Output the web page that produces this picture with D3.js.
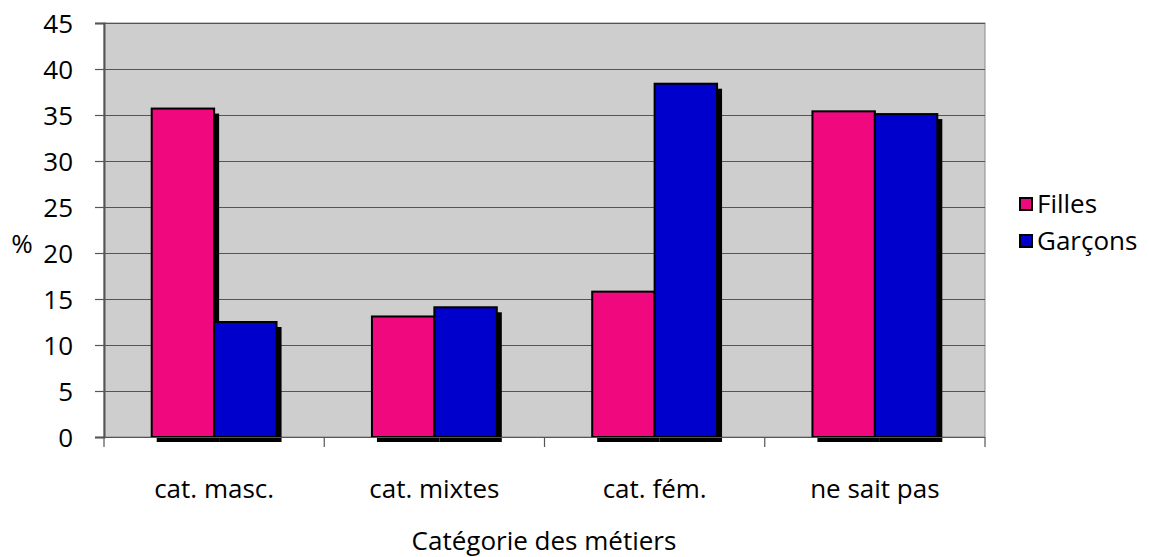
<!DOCTYPE html>
<html>
<head>
<meta charset="utf-8">
<script src="https://cdn.jsdelivr.net/npm/d3@7"></script>
<style>
  body { margin: 0; background: #fff; }
  svg text { font-family: "Open Sans", Lato, sans-serif; font-size: 26px; fill: #000; }
</style>
</head>
<body>
<svg id="chart" width="1149" height="557"></svg>
<script>
// Job categories and the share (%) of girls and boys choosing each
const categories = ["cat. masc.", "cat. mixtes", "cat. fém.", "ne sait pas"];
const filles = [35.7, 13.1, 15.8, 35.4];
const garcons = [12.5, 14.1, 38.4, 35.1];
const seriesNames = ["Filles", "Garçons"];
const seriesColors = ["#F0087F", "#0000CC"];
const yTicks = [0, 5, 10, 15, 20, 25, 30, 35, 40, 45];

const svg = d3.select("#chart");
const plot = { left: 104, right: 985, top: 23, bottom: 437 };

const x = d3.scaleBand().domain(categories).range([plot.left, plot.right]).paddingInner(0).paddingOuter(0);
const inner = d3.scaleBand().domain(seriesNames).range([0, x.bandwidth()]).paddingInner(0).paddingOuter(0.764);
const y = d3.scaleLinear().domain([0, 45]).range([plot.bottom, plot.top]);

// plot background
svg.append("rect")
  .attr("x", plot.left).attr("y", plot.top)
  .attr("width", plot.right - plot.left).attr("height", plot.bottom - plot.top)
  .attr("fill", "#CECECE").attr("stroke", "#8a8a8a").attr("stroke-width", 1);

// horizontal gridlines
svg.append("g").selectAll("line").data(yTicks.filter(d => d > 0)).join("line")
  .attr("x1", plot.left).attr("x2", plot.right)
  .attr("y1", d => Math.round(y(d)) + 0.5).attr("y2", d => Math.round(y(d)) + 0.5)
  .attr("stroke", "#555").attr("stroke-width", 1.2);

const rows = categories.map((c, i) => ({ cat: c, values: [filles[i], garcons[i]] }));
const bars = [];
rows.forEach(r => r.values.forEach((v, j) => bars.push({ cat: r.cat, name: seriesNames[j], value: v, color: seriesColors[j] })));

// drop shadows
svg.append("g").selectAll("rect").data(bars).join("rect")
  .attr("x", d => x(d.cat) + inner(d.name) + 5)
  .attr("y", d => y(d.value) + 5)
  .attr("width", inner.bandwidth())
  .attr("height", d => y(0) - y(d.value))
  .attr("fill", "#000");

// bars
svg.append("g").selectAll("rect").data(bars).join("rect")
  .attr("x", d => x(d.cat) + inner(d.name))
  .attr("y", d => y(d.value))
  .attr("width", inner.bandwidth())
  .attr("height", d => y(0) - y(d.value))
  .attr("fill", d => d.color)
  .attr("stroke", "#000").attr("stroke-width", 2);

// y axis
const yAxis = d3.axisLeft(y).tickValues(yTicks).tickSize(9).tickPadding(22);
const gy = svg.append("g").attr("transform", `translate(${plot.left},0)`).call(yAxis);
gy.attr("font-family", null).attr("font-size", null);
gy.select(".domain").attr("stroke", "#555").attr("stroke-width", 2);
gy.selectAll(".tick line").attr("stroke", "#555").attr("stroke-width", 1.2);
gy.selectAll(".tick text").attr("dy", "0.36em");

// x axis with ticks between categories
const gx = svg.append("g").attr("transform", `translate(0,${plot.bottom})`);
gx.append("line").attr("x1", plot.left).attr("x2", plot.right).attr("y1", 0.5).attr("y2", 0.5)
  .attr("stroke", "#555").attr("stroke-width", 1.2);
const boundaries = categories.map(c => x(c)).concat([plot.right]);
gx.selectAll("line.tk").data(boundaries).join("line").attr("class", "tk")
  .attr("x1", d => d).attr("x2", d => d).attr("y1", 0).attr("y2", 10)
  .attr("stroke", "#555").attr("stroke-width", 1.2);
gx.selectAll("text").data(categories).join("text")
  .attr("x", d => x(d) + x.bandwidth() / 2).attr("y", 61)
  .attr("text-anchor", "middle").text(d => d);

// axis titles
svg.append("text").attr("x", 544).attr("y", 550).attr("text-anchor", "middle")
  .text("Catégorie des métiers");
svg.append("text").attr("x", 22).attr("y", 253).attr("text-anchor", "middle")
  .text("%");

// legend
const legend = svg.append("g").attr("transform", "translate(1020,198)");
seriesNames.forEach((n, i) => {
  const g = legend.append("g").attr("transform", `translate(0,${i * 37})`);
  g.append("rect").attr("x", 0).attr("y", 0).attr("width", 12).attr("height", 12)
    .attr("fill", seriesColors[i]).attr("stroke", "#000").attr("stroke-width", 2);
  g.append("text").attr("x", 17).attr("y", 15).text(n);
});
</script>
</body>
</html>
